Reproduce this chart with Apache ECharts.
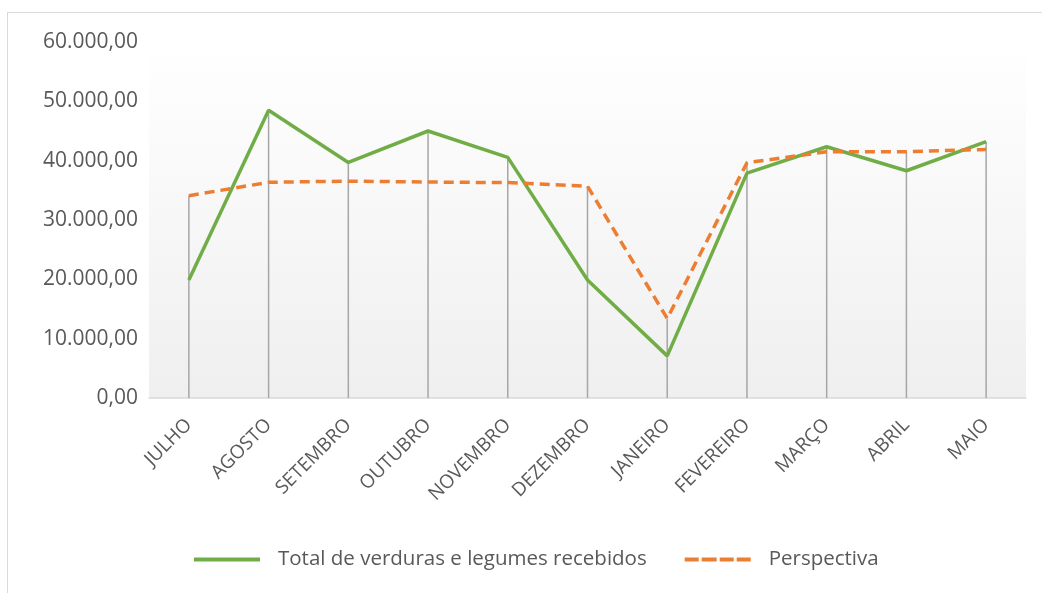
<!DOCTYPE html>
<html>
<head>
<meta charset="utf-8">
<script src="https://cdn.jsdelivr.net/npm/echarts@6/dist/echarts.min.js"></script>
<style>
	html, body { margin: 0; padding: 0; background: #fff; }
	#frame { position: absolute; left: 7px; top: 12px; width: 1100px; height: 700px; border: 1px solid #d9d9d9; }
	#main { position: absolute; left: 0; top: 0; width: 1042px; height: 593px; }
</style>
</head>
<body>
<div id="frame"></div>
<div id="main"></div>
<script>
	// meses
	var months = ['JULHO', 'AGOSTO', 'SETEMBRO', 'OUTUBRO', 'NOVEMBRO', 'DEZEMBRO', 'JANEIRO', 'FEVEREIRO', 'MARÇO', 'ABRIL', 'MAIO'];
	// total recebido
	var totalRecebido = [19900, 48500, 39700, 45000, 40550, 19900, 7100, 37900, 42350, 38300, 43200];
	// perspectiva
	var perspectiva = [34100, 36350, 36550, 36400, 36300, 35700, 13400, 39650, 41500, 41500, 41900];
	var yTicks = [0, 10000, 20000, 30000, 40000, 50000, 60000];

	// linhas de queda: maior valor de cada mes
	var dropLines = [];
	for(var i = 0; i < months.length; i++) {
		dropLines.push(Math.max(totalRecebido[i], perspectiva[i]));
	}

	function fmt(v) {
		var s = Math.round(v).toString();
		s = s.replace(/\B(?=(\d{3})+(?!\d))/g, '.');
		return s + ',00';
	}

	var chart = echarts.init(document.getElementById('main'));
	var option = {
		animation: false,
		textStyle: { fontFamily: 'Open Sans' },
		grid: {
			left: 149,
			right: 16,
			top: 42,
			bottom: 195,
			show: true,
			borderWidth: 0,
			backgroundColor: new echarts.graphic.LinearGradient(0, 0, 0, 1, [
				{ offset: 0, color: '#ffffff' },
				{ offset: 1, color: '#efefef' }
			])
		},
		legend: {
			data: [{
					name: 'Total de verduras e legumes recebidos',
					icon: 'path://M0,0h66v4h-66z'
				},
				{
					name: 'Perspectiva',
					icon: 'path://M0,0h14v4h-14z M17,0h15v4h-15z M35,0h14v4h-14z M52,0h14v4h-14z'
				}
			],
			bottom: 18,
			left: 189,
			itemWidth: 66,
			itemHeight: 4,
			itemGap: 38,
			textStyle: { color: '#595959', fontSize: 20.5, fontFamily: 'Open Sans', padding: [0, 0, 0, 13] }
		},
		xAxis: {
			type: 'category',
			data: months,
			axisLine: { lineStyle: { color: '#d9d9d9', width: 1.5 } },
			axisTick: { show: false },
			axisLabel: {
				rotate: 45,
				color: '#595959',
				fontSize: 19,
				margin: 24
			}
		},
		yAxis: {
			type: 'value',
			min: yTicks[0],
			max: yTicks[yTicks.length - 1],
			interval: 10000,
			splitLine: { show: false },
			axisLine: { show: false },
			axisTick: { show: false },
			axisLabel: {
				color: '#595959',
				fontSize: 21,
				margin: 11,
				formatter: fmt
			}
		},
		series: [{
				name: 'drop',
				type: 'bar',
				data: dropLines,
				barWidth: 1.5,
				itemStyle: { color: '#a6a6a6' },
				z: 1,
				silent: true
			},
			{
				name: 'Total de verduras e legumes recebidos',
				type: 'line',
				data: totalRecebido,
				symbol: 'none',
				lineStyle: { color: '#70ad47', width: 3.5 },
				itemStyle: { color: '#70ad47' },
				z: 3
			},
			{
				name: 'Perspectiva',
				type: 'line',
				data: perspectiva,
				symbol: 'none',
				lineStyle: { color: '#ed7d31', width: 3.5, type: [10, 6] },
				itemStyle: { color: '#ed7d31' },
				z: 4
			}
		]
	};
	chart.setOption(option);
</script>
</body>
</html>
